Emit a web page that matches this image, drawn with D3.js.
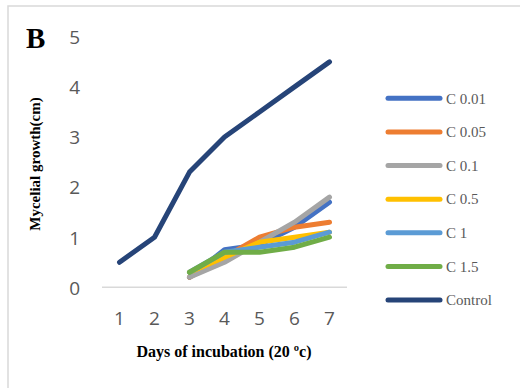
<!DOCTYPE html>
<html><head><meta charset="utf-8">
<script src="https://cdn.jsdelivr.net/npm/d3@7"></script>
<style>html,body{margin:0;padding:0;background:#fff;}svg{display:block;}</style>
</head><body>
<svg id="chart" width="520" height="388"></svg>
<script>
const days = [1, 2, 3, 4, 5, 6, 7];
const yTicks = [0, 1, 2, 3, 4, 5];
const seriesNames = ["C 0.01", "C 0.05", "C 0.1", "C 0.5", "C 1", "C 1.5", "Control"];
const seriesColors = ["#4472C4", "#ED7D31", "#A5A5A5", "#FFC000", "#5B9BD5", "#70AD47", "#264478"];
const c001 = [null, null, 0.2, 0.75, 0.85, 1.2, 1.7];
const c005 = [null, null, 0.2, 0.6, 1.0, 1.2, 1.3];
const c01 = [null, null, 0.2, 0.5, 0.9, 1.3, 1.8];
const c05 = [null, null, 0.3, 0.6, 0.9, 1.0, 1.1];
const c1 = [null, null, 0.3, 0.7, 0.8, 0.9, 1.1];
const c15 = [null, null, 0.3, 0.7, 0.7, 0.8, 1.0];
const control = [0.5, 1.0, 2.3, 3.0, 3.5, 4.0, 4.5];
const seriesValues = [c001, c005, c01, c05, c1, c15, control];

const svg = d3.select("#chart");

// outer frame
svg.append("rect").attr("x", 8).attr("y", 6).attr("width", 530).attr("height", 400)
  .attr("fill", "none").attr("stroke", "#d9d9d9").attr("stroke-width", 1.5);

const x = d3.scaleBand().domain(days).range([102, 347]);
const y = d3.scaleLinear().domain([0, 5]).range([287.3, 36.8]);

// x axis line
svg.append("line").attr("x1", x.range()[0]).attr("x2", x.range()[1])
  .attr("y1", y(0)).attr("y2", y(0)).attr("stroke", "#d9d9d9").attr("stroke-width", 1.5);

// y tick labels
const yAxis = d3.axisLeft(y).tickValues(yTicks).tickFormat(d3.format("d")).tickSize(0).tickPadding(0);
const gy = svg.append("g").attr("transform", "translate(80,0)").call(yAxis);
gy.select(".domain").remove();
gy.selectAll("text").attr("font-family", "'Open Sans', sans-serif").attr("font-size", 19)
  .attr("fill", "#595959").attr("dy", "0.36em");

// x tick labels
const xAxis = d3.axisBottom(x).tickSize(0).tickPadding(0);
const gx = svg.append("g").attr("transform", "translate(0,311)").call(xAxis);
gx.select(".domain").remove();
gx.selectAll("text").attr("font-family", "'Open Sans', sans-serif").attr("font-size", 19)
  .attr("fill", "#595959").attr("dy", "0.71em");

// lines
const line = d3.line()
  .defined(d => d != null)
  .x((d, i) => x(days[i]) + x.bandwidth() / 2)
  .y(d => y(d));
seriesValues.forEach((vals, k) => {
  svg.append("path").attr("d", line(vals)).attr("fill", "none")
    .attr("stroke", seriesColors[k]).attr("stroke-width", 5)
    .attr("stroke-linejoin", "round").attr("stroke-linecap", "round");
});

// legend
const legY = d3.scalePoint().domain(seriesNames).range([98.3, 300]);
seriesNames.forEach((name, k) => {
  const yy = legY(name);
  svg.append("line").attr("x1", 388).attr("x2", 440).attr("y1", yy).attr("y2", yy)
    .attr("stroke", seriesColors[k]).attr("stroke-width", 5).attr("stroke-linecap", "round");
  svg.append("text").attr("x", 446).attr("y", yy).attr("dy", "0.35em")
    .attr("font-family", "'Liberation Serif', 'Times New Roman', serif").attr("font-size", 15)
    .attr("fill", "#595959").text(name);
});

// titles
svg.append("text").attr("x", 224).attr("y", 357).attr("text-anchor", "middle")
  .attr("font-family", "'Liberation Serif', 'Times New Roman', serif").attr("font-size", 16)
  .attr("font-weight", "bold").attr("fill", "#000").text("Days of incubation (20 ºc)");
svg.append("text").attr("transform", "translate(40,164) rotate(-90)").attr("text-anchor", "middle")
  .attr("font-family", "'Liberation Serif', 'Times New Roman', serif").attr("font-size", 15)
  .attr("font-weight", "bold").attr("fill", "#000").text("Mycelial growth(cm)");
svg.append("text").attr("x", 26).attr("y", 48)
  .attr("font-family", "'Liberation Serif', 'Times New Roman', serif").attr("font-size", 29)
  .attr("font-weight", "bold").attr("fill", "#000").text("B");
</script>
</body></html>
